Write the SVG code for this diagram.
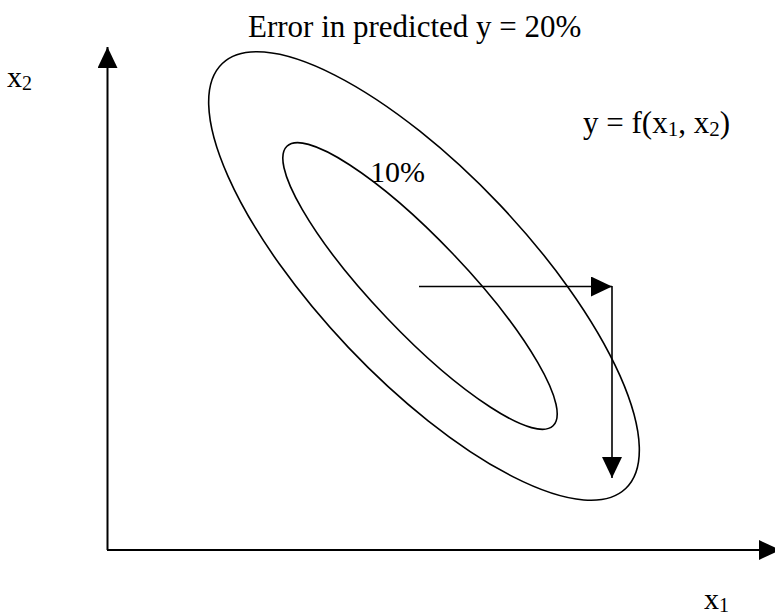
<svg xmlns="http://www.w3.org/2000/svg" width="775" height="616" viewBox="0 0 775 616">
<style>
.t{font-family:'Liberation Serif',serif;font-size:30px;fill:#000}
.big{font-size:31px}
.sub{font-size:20px}
.big .sub{font-size:21px}
.ell{fill:none;stroke:#000;stroke-width:1.6}
.axis{fill:none;stroke:#000;stroke-width:2}
.arr{fill:none;stroke:#000;stroke-width:1.6}
</style>
<defs>
<marker id="ah" markerUnits="userSpaceOnUse" markerWidth="21" markerHeight="20" refX="21" refY="10" orient="auto" viewBox="0 0 21 20">
<path d="M0,0 L21,10 L0,20 z" fill="#000"/>
</marker>
</defs>
<rect width="775" height="616" fill="#fff"/>
<g id="connectors">
<line class="axis" x1="107.5" y1="550" x2="107.5" y2="47" marker-end="url(#ah)"/>
<line class="axis" x1="107" y1="550" x2="780" y2="550" marker-end="url(#ah)"/>
<line class="arr" x1="419" y1="286.5" x2="612" y2="286.5" marker-end="url(#ah)"/>
<line class="arr" x1="612" y1="286" x2="612" y2="478" marker-end="url(#ah)"/>
</g>
<g id="outer-contour">
<ellipse class="ell" cx="424" cy="276" rx="293" ry="104" transform="rotate(46.5 424 276)"/>
<text class="t big" x="248" y="37">Error in predicted y = 20%</text>
</g>
<g id="inner-contour">
<ellipse class="ell" cx="420" cy="286" rx="193" ry="46" transform="rotate(46.4 420 286)"/>
<text class="t" x="370" y="182">10%</text>
</g>
<g id="label-x2">
<text class="t" x="7" y="87">x<tspan class="sub" dy="3">2</tspan></text>
</g>
<g id="label-x1">
<text class="t" x="704" y="609">x<tspan class="sub" dy="3">1</tspan></text>
</g>
<g id="label-f">
<text class="t big" x="583" y="133">y = f(x<tspan class="sub" dy="3">1</tspan><tspan dy="-3">, x</tspan><tspan class="sub" dy="3">2</tspan><tspan dy="-3">)</tspan></text>
</g>
</svg>
